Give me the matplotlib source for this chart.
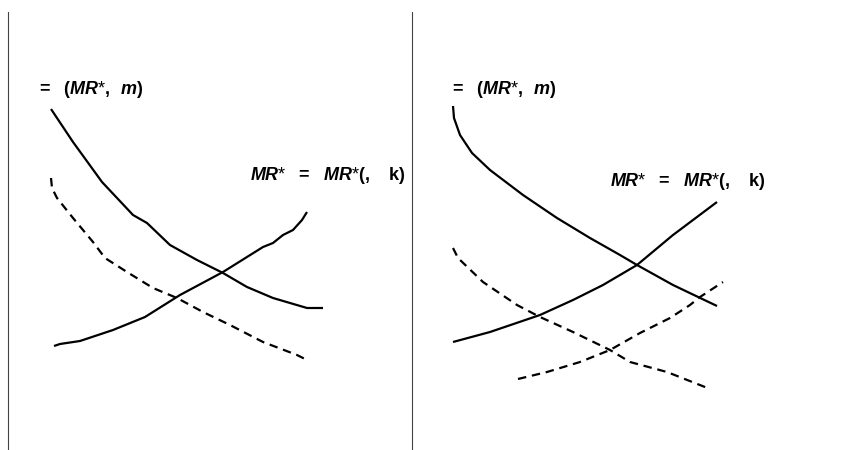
import matplotlib
matplotlib.use("Agg")
import matplotlib.pyplot as plt

plt.rcParams['font.family'] = ['Liberation Sans', 'DejaVu Sans']
plt.rcParams['mathtext.fontset'] = 'custom'
plt.rcParams['mathtext.it'] = 'Liberation Sans:italic:bold'
plt.rcParams['mathtext.rm'] = 'Liberation Sans:bold'
plt.rcParams['mathtext.bf'] = 'Liberation Sans:bold'

# Left panel curves (x, y in chart units; y grows downward)
left_demand_x = [51, 73, 102, 133, 147, 170, 197, 223, 247, 273, 307, 323]
left_demand_y = [109, 142, 182, 215, 223, 245, 260, 273, 287, 298, 308, 308]

left_demand2_x = [51, 52, 57, 73, 93, 105, 127, 153, 177, 203, 230, 263, 297, 309]
left_demand2_y = [178, 188, 198, 218, 242, 258, 272, 288, 298, 312, 325, 342, 355, 361]

left_supply_x = [54, 60, 80, 113, 145, 180, 223, 263, 273, 283, 293, 302, 307]
left_supply_y = [346, 344, 341, 330, 317, 295, 272, 247, 243, 235, 230, 220, 212]

# Right panel curves
right_demand_x = [453, 454, 460, 472, 490, 523, 557, 590, 620, 637, 673, 717]
right_demand_y = [106, 118, 135, 153, 170, 195, 218, 238, 255, 265, 285, 306]

right_demand2_x = [453, 458, 483, 517, 540, 573, 610, 630, 667, 710]
right_demand2_y = [248, 258, 282, 305, 317, 332, 350, 362, 372, 389]

right_supply_x = [453, 490, 540, 573, 603, 637, 673, 717]
right_supply_y = [342, 332, 315, 300, 285, 265, 235, 202]

right_supply2_x = [518, 547, 580, 610, 640, 670, 690, 700, 723]
right_supply2_y = [379, 372, 362, 350, 333, 318, 305, 297, 282]

divider_x = [8, 412]
divider_top = 12
divider_bottom = 450

fig = plt.figure(figsize=(8.44, 4.5), dpi=100)
ax = fig.add_axes([0, 0, 1, 1])
ax.set_xlim(0, 844)
ax.set_ylim(450, 0)
ax.axis('off')

for dx in divider_x:
    ax.plot([dx, dx], [divider_top, divider_bottom], color='#444444', lw=0.8)

solid = dict(color='black', lw=1.6, solid_capstyle='butt', solid_joinstyle='round')
dashed = dict(color='black', lw=1.6, linestyle=(0, (3.8, 2.6)), dash_capstyle='butt')

ax.plot(left_demand_x, left_demand_y, **solid)
ax.plot(left_demand2_x, left_demand2_y, **dashed)
ax.plot(left_supply_x, left_supply_y, **solid)

ax.plot(right_demand_x, right_demand_y, **solid)
ax.plot(right_demand2_x, right_demand2_y, **dashed)
ax.plot(right_supply_x, right_supply_y, **solid)
ax.plot(right_supply2_x, right_supply2_y, **dashed)

fs = 13
lab_demand = r'$\mathrm{=}\ \ (\mathit{MR}$*$\mathrm{,}\ \ \mathit{m})$'
lab_supply = r'$\mathit{MR}$*$\ \ \mathrm{=}\ \ \mathit{MR}$*$\mathrm{(,}\ \ \ \mathrm{k)}$'
ax.text(36, 89, lab_demand, fontsize=fs, va='center', ha='left')
ax.text(250, 175, lab_supply, fontsize=fs, va='center', ha='left')
ax.text(449, 89, lab_demand, fontsize=fs, va='center', ha='left')
ax.text(610, 181, lab_supply, fontsize=fs, va='center', ha='left')

fig.savefig('out.png', dpi=100)
